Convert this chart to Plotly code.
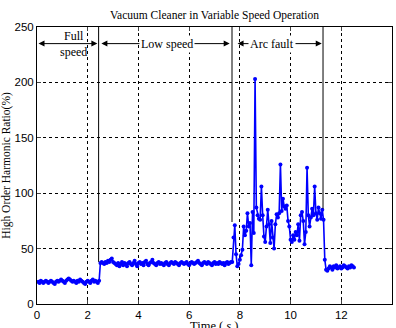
import numpy as np
import plotly.graph_objects as go

STEP = 0.05

# Segment start times (s) and high-order harmonic ratio values (%)
full_start = 0.05
full_vals = [20, 19, 21, 20, 19, 20, 21, 20, 19, 20, 21, 20, 19, 18, 20, 21, 20, 21, 22, 21,
             20, 19, 21, 22, 23, 22, 21, 20, 21, 20, 19, 21, 20, 22, 21, 20, 19, 18, 20, 21,
             20, 19, 21, 22, 20, 21, 20, 19, 21]

low_start = 2.5
low_vals = [37, 38, 37, 36, 38, 37, 39, 38, 40, 41, 38, 37, 36, 35, 37, 34, 36, 38, 35, 37,
            36, 34, 37, 38, 36, 35, 37, 39, 36, 34, 37, 38, 36, 37, 35, 38, 39, 36, 35, 37,
            38, 40, 37, 36, 35, 37, 38, 36, 37, 36, 35, 37, 38, 36, 35, 37, 38, 37, 36, 38,
            37, 36, 35, 37, 38, 37, 36, 37, 38, 36, 35, 37, 38, 37, 36, 37, 38, 39, 37, 36,
            35, 37, 38, 37, 36, 38, 37, 36, 35, 37, 38, 36, 37, 36, 38, 37, 36, 37, 35, 37,
            38, 36, 37, 38]

arc_start = 7.7
arc_vals = [38, 60, 71, 45, 34, 36, 40, 44, 49, 70, 62, 66, 82, 70, 73, 35, 83, 64, 203, 87,
            80, 77, 76, 106, 80, 61, 56, 70, 85, 72, 55, 75, 60, 50, 72, 81, 78, 82, 126, 84,
            95, 88, 86, 89, 75, 70, 58, 56, 62, 58, 65, 62, 72, 57, 80, 83, 75, 54, 65, 123,
            80, 70, 78, 86, 80, 106, 82, 76, 87, 82, 77, 85, 76, 40, 31]

after_start = 11.45
after_vals = [30, 32, 34, 33, 31, 34, 33, 35, 32, 33, 34, 32, 33, 35, 34, 33, 32, 34, 33, 35,
              34, 33]

# Phase boundaries (s) and labels
boundaries = [2.43, 7.69, 11.28]
boundary_low = [38, 74, 86]
phases = [("Full<br>speed", 0.0, 2.38, 1.42, False), ("Low speed", 2.48, 7.6, 5.12, True),
          ("Arc fault", 7.85, 11.23, 9.25, True)]
arrow_y = 235

x_ticks = [0, 2, 4, 6, 8, 10, 12, 14]
y_ticks = [0, 50, 100, 150, 200, 250]

t, v = [], []
for start, vals in [(full_start, full_vals), (low_start, low_vals),
                    (arc_start, arc_vals), (after_start, after_vals)]:
    t.extend(start + STEP * np.arange(len(vals)))
    v.extend(vals)

fig = go.Figure()
fig.add_trace(go.Scatter(x=t, y=v, mode="lines+markers",
                         line=dict(color="#0000ff", width=1.6),
                         marker=dict(color="#0000ff", size=4),
                         showlegend=False, hoverinfo="skip"))

for bx, by in zip(boundaries, boundary_low):
    fig.add_shape(type="line", x0=bx, x1=bx, y0=by, y1=250, xref="x", yref="y",
                  line=dict(color="black", width=1))

serif = "Liberation Serif"
for label, x0, x1, xc, bg in phases:
    fig.add_annotation(x=x1, y=arrow_y, ax=x0, ay=arrow_y, xref="x", yref="y",
                       axref="x", ayref="y", text="", showarrow=True,
                       arrowhead=2, arrowside="end+start", arrowsize=1.2,
                       arrowwidth=1, arrowcolor="black")
    fig.add_annotation(x=xc, y=arrow_y, xref="x", yref="y", text=label,
                       showarrow=False, bgcolor="white" if bg else "rgba(0,0,0,0)",
                       font=dict(family=serif, size=12, color="black"))

# x-axis title (partly below the visible page, as in the reference)
fig.add_annotation(x=0.5, y=-0.078, xref="paper", yref="paper", text="Time ( <i>s</i> )",
                   showarrow=False, xanchor="center", yanchor="middle",
                   font=dict(family=serif, size=12.5, color="black"))

fig.update_layout(
    width=396, height=328,
    margin=dict(l=37, r=4, t=27, b=24),
    paper_bgcolor="white", plot_bgcolor="white",
    title=dict(text="Vacuum Cleaner in Variable Speed Operation",
               x=(37 + 392) / 2 / 396, xanchor="center", y=1 - 15 / 328, yanchor="middle",
               font=dict(family=serif, size=11.5, color="black")),
    font=dict(family="Liberation Sans", size=11.5, color="black"),
)
fig.update_xaxes(range=[0, 14], tickvals=x_ticks, ticks="inside", ticklen=4,
                 ticklabelstandoff=0, automargin=False,
                 showline=True, linecolor="black", linewidth=1, mirror="ticks",
                 showgrid=True, gridcolor="black", griddash="3px,3px", gridwidth=0.8,
                 zeroline=False)
fig.update_yaxes(range=[0, 250], tickvals=y_ticks, ticks="inside", ticklen=4,
                 automargin=False,
                 showline=True, linecolor="black", linewidth=1, mirror="ticks",
                 showgrid=True, gridcolor="black", griddash="3px,3px", gridwidth=0.8,
                 zeroline=False,
                 title=dict(text="High Order Harmonic Ratio(%)", standoff=2,
                            font=dict(family=serif, size=11.5)))

fig.write_html("out.html")
